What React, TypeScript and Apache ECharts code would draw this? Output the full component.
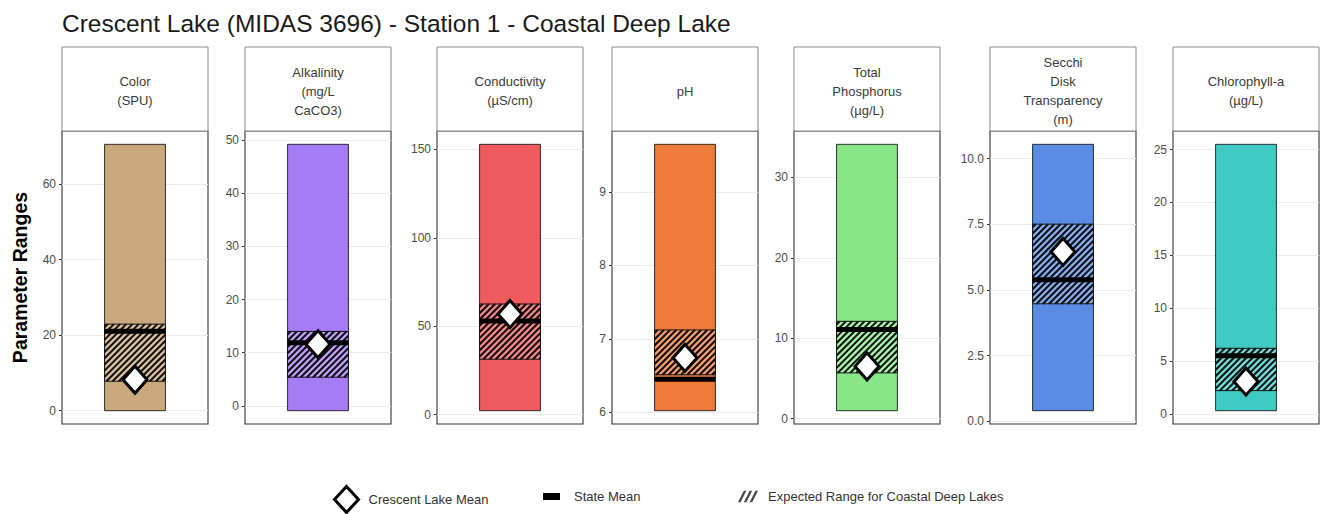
import React, { useEffect, useRef } from "react";
import * as echarts from "echarts";

// ---------- data ----------
const titleText = "Crescent Lake (MIDAS 3696) - Station 1 - Coastal Deep Lake";
const yAxisTitle = "Parameter Ranges";
const parameters = [
  "Color\n(SPU)",
  "Alkalinity\n(mg/L\nCaCO3)",
  "Conductivity\n(µS/cm)",
  "pH",
  "Total\nPhosphorus\n(µg/L)",
  "Secchi\nDisk\nTransparency\n(m)",
  "Chlorophyll-a\n(µg/L)",
];
const barColors = ["#C9A87C", "#A57CF6", "#EF5A5F", "#EE7A3B", "#88E688", "#5A8CE4", "#3FCBC3"];
const rangeMin = [0, -0.9, 2.3, 6.02, 1.0, 0.4, 0.3];
const rangeMax = [70.5, 49.2, 152.9, 9.65, 34.1, 10.54, 25.5];
const expectedLow = [7.8, 5.4, 31.4, 6.51, 5.7, 4.47, 2.2];
const expectedHigh = [22.9, 14.0, 62.6, 7.12, 12.1, 7.5, 6.2];
const stateMean = [21.0, 11.9, 53.0, 6.45, 11.1, 5.38, 5.5];
const lakeMean = [8.2, 11.6, 56.9, 6.74, 6.5, 6.45, 3.05];
const tickValues = [
  [0, 20, 40, 60],
  [0, 10, 20, 30, 40, 50],
  [0, 50, 100, 150],
  [6, 7, 8, 9],
  [0, 10, 20, 30],
  [0, 2.5, 5, 7.5, 10],
  [0, 5, 10, 15, 20, 25],
];
const tickDecimals = [0, 0, 0, 0, 0, 1, 0];
const legendNames = ["Crescent Lake Mean", "State Mean", "Expected Range for Coastal Deep Lakes"];

// ---------- layout ----------
const FONT = "'Liberation Sans', Arial, sans-serif";
const PANEL_LEFT = [62, 245, 437, 612, 794, 990, 1173];
const PANEL_W = 146;
const PANEL_TOP = 131;
const PANEL_H = 293;
const STRIP_TOP = 47;
const BAR_X0 = 0.75;
const BAR_X1 = 1.25;
const PERIOD = 6.2;

function makeRangeItem(color: string) {
  return (params: any, api: any) => {
    const a = api.coord([BAR_X0, api.value(1)]);
    const b = api.coord([BAR_X1, api.value(2)]);
    return {
      type: "rect",
      shape: { x: a[0], y: b[1], width: b[0] - a[0], height: a[1] - b[1] },
      style: { fill: color, stroke: "#1a1a1a", lineWidth: 0.9 },
    };
  };
}

function makeHatchItem(color: string) {
  return (params: any, api: any) => {
    const a = api.coord([BAR_X0, api.value(1)]);
    const b = api.coord([BAR_X1, api.value(2)]);
    const x0 = a[0];
    const x1 = b[0];
    const yb = a[1];
    const yt = b[1];
    const w = x1 - x0;
    const h = yb - yt;
    const children: any[] = [
      { type: "rect", shape: { x: x0, y: yt, width: w, height: h }, style: { fill: color } },
    ];
    const seg = (c: number, stroke: string, lw: number) => {
      const t0 = Math.max(0, -c);
      const t1 = Math.min(h, w - c);
      if (t1 <= t0) return;
      children.push({
        type: "line",
        shape: { x1: x0 + c + t0, y1: yb - t0, x2: x0 + c + t1, y2: yb - t1 },
        style: { stroke, lineWidth: lw },
      });
    };
    for (let c = -h - PERIOD; c < w + PERIOD; c += PERIOD) {
      seg(c, "rgba(255,255,255,0.32)", 1.8);
      seg(c + PERIOD / 2, "#111", 2.0);
    }
    children.push({
      type: "rect",
      shape: { x: x0, y: yt, width: w, height: h },
      style: { fill: "none", stroke: "#111", lineWidth: 1 },
    });
    return { type: "group", children };
  };
}

function stateMeanItem(params: any, api: any) {
  const a = api.coord([BAR_X0, api.value(1)]);
  const b = api.coord([BAR_X1, api.value(1)]);
  return {
    type: "rect",
    shape: { x: a[0], y: a[1] - 2.5, width: b[0] - a[0], height: 5 },
    style: { fill: "#000" },
  };
}

export default function App() {
  const ref = useRef<HTMLDivElement>(null);
  useEffect(() => {
    document.body.style.margin = "0";
    if (!ref.current) return;
    const chart = echarts.init(ref.current, undefined, { renderer: "svg" });

    const grids: any[] = [];
    const xAxes: any[] = [];
    const yAxes: any[] = [];
    const series: any[] = [];
    const graphics: any[] = [];

    parameters.forEach((p, i) => {
      const span = rangeMax[i] - rangeMin[i];
      grids.push({
        left: PANEL_LEFT[i],
        top: PANEL_TOP,
        width: PANEL_W,
        height: PANEL_H,
        show: true,
        backgroundColor: "#fff",
        borderColor: "#333",
        borderWidth: 1.1,
      });
      xAxes.push({ type: "value", gridIndex: i, min: 0.4, max: 1.6, show: false });
      const dec = tickDecimals[i];
      yAxes.push({
        type: "value",
        gridIndex: i,
        min: rangeMin[i] - 0.05 * span,
        max: rangeMax[i] + 0.05 * span,
        axisLine: { show: false },
        axisTick: { show: true, length: 3, lineStyle: { color: "#333" }, customValues: tickValues[i] },
        axisLabel: {
          customValues: tickValues[i],
          formatter: (v: number) => v.toFixed(dec),
          fontSize: 12,
          color: "#4d4d4d",
          margin: 6,
          fontFamily: FONT,
        },
        splitLine: { show: true, lineStyle: { color: "#ebebeb", width: 1 } },
        name: i === 0 ? yAxisTitle : "",
        nameLocation: "middle",
        nameGap: 32,
        nameRotate: 90,
        nameTextStyle: { fontSize: 19.5, fontWeight: "bold", color: "#000", fontFamily: FONT },
      });
      series.push({
        type: "custom",
        name: "Range",
        xAxisIndex: i,
        yAxisIndex: i,
        data: [[1, rangeMin[i], rangeMax[i]]],
        encode: { x: 0, y: [1, 2] },
        renderItem: makeRangeItem(barColors[i]),
        z: 2,
      });
      series.push({
        type: "custom",
        name: legendNames[2],
        xAxisIndex: i,
        yAxisIndex: i,
        data: [[1, expectedLow[i], expectedHigh[i]]],
        encode: { x: 0, y: [1, 2] },
        renderItem: makeHatchItem(barColors[i]),
        itemStyle: { color: "#333" },
        z: 3,
      });
      series.push({
        type: "custom",
        name: legendNames[1],
        xAxisIndex: i,
        yAxisIndex: i,
        data: [[1, stateMean[i]]],
        encode: { x: 0, y: 1 },
        renderItem: stateMeanItem,
        itemStyle: { color: "#000" },
        z: 4,
      });
      series.push({
        type: "scatter",
        name: legendNames[0],
        xAxisIndex: i,
        yAxisIndex: i,
        data: [[1, lakeMean[i]]],
        symbol: "diamond",
        symbolSize: [24, 27],
        itemStyle: { color: "#fff", borderColor: "#000", borderWidth: 3, opacity: 1 },
        z: 5,
      });
      graphics.push({
        type: "rect",
        shape: { x: PANEL_LEFT[i], y: STRIP_TOP, width: PANEL_W, height: PANEL_TOP - STRIP_TOP },
        style: { fill: "#fff", stroke: "#8a8a8a", lineWidth: 1 },
      });
      graphics.push({
        type: "text",
        x: PANEL_LEFT[i] + PANEL_W / 2,
        y: 91,
        style: {
          text: p,
          fontSize: 13,
          lineHeight: 19,
          fontFamily: FONT,
          fill: "#3a3a3a",
          align: "center",
          verticalAlign: "middle",
          textAlign: "center",
          textVerticalAlign: "middle",
        },
      });
    });

    const legendText = { fontSize: 13, color: "#333", fontFamily: FONT, padding: [0, 0, 0, 5] };
    const hatchIcon =
      "path://M0,14 L7,0 L10,0 L3,14 Z M7,14 L14,0 L17,0 L10,14 Z M14,14 L21,0 L24,0 L17,14 Z";

    chart.setOption({
      animation: false,
      backgroundColor: "#fff",
      title: {
        text: titleText,
        left: 57,
        top: 6,
        textStyle: { fontSize: 24.5, fontWeight: "normal", color: "#1a1a1a", fontFamily: FONT },
      },
      legend: [
        {
          data: [{ name: legendNames[0], icon: "diamond" }],
          left: 328,
          top: 480,
          itemWidth: 24,
          itemHeight: 26,
          selectedMode: false,
          itemStyle: { color: "#fff", borderColor: "#000", borderWidth: 3 },
          textStyle: legendText,
        },
        {
          data: [{ name: legendNames[1], icon: "rect" }],
          left: 538,
          top: 485,
          itemWidth: 17,
          itemHeight: 7,
          selectedMode: false,
          itemStyle: { color: "#000", borderWidth: 0 },
          textStyle: { ...legendText, padding: [0, 0, 0, 9] },
        },
        {
          data: [{ name: legendNames[2], icon: hatchIcon }],
          left: 733,
          top: 485,
          itemWidth: 20,
          itemHeight: 12,
          selectedMode: false,
          itemStyle: { color: "#444", borderWidth: 0 },
          textStyle: legendText,
        },
      ],
      grid: grids,
      xAxis: xAxes,
      yAxis: yAxes,
      series,
      graphic: graphics,
    });

    return () => chart.dispose();
  }, []);

  return (
    <div
      ref={ref}
      style={{ position: "fixed", left: 0, top: 0, width: 1321, height: 514, background: "#fff" }}
    />
  );
}
